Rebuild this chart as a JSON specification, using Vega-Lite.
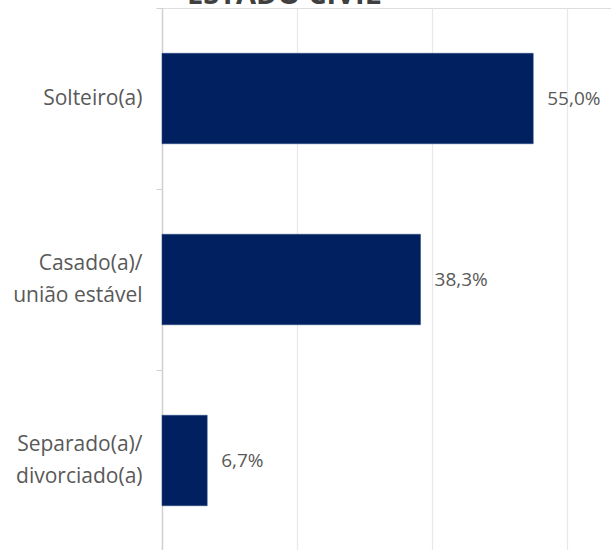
{
  "$schema": "https://vega.github.io/schema/vega-lite/v6.json",
  "autosize": {"type": "none"},
  "padding": {"left": 162, "top": 8, "right": 0, "bottom": 0},
  "width": 540,
  "height": 543,
  "background": "white",
  "title": {
    "text": "ESTADO CIVIL",
    "anchor": "start",
    "frame": "group",
    "dx": 25,
    "offset": 3,
    "dy": 28,
    "baseline": "alphabetic",
    "font": "Open Sans",
    "fontSize": 29,
    "fontWeight": "bold",
    "color": "#404040"
  },
  "data": {
    "values": [
      {"categoria": "Solteiro(a)", "valor": 0.55, "rotulo": "55,0%"},
      {"categoria": "Casado(a)/|união estável", "valor": 0.383, "rotulo": "38,3%"},
      {"categoria": "Separado(a)/|divorciado(a)", "valor": 0.067, "rotulo": "6,7%"}
    ]
  },
  "encoding": {
    "y": {
      "field": "categoria",
      "type": "nominal",
      "sort": ["Solteiro(a)", "Casado(a)/|união estável", "Separado(a)/|divorciado(a)"],
      "scale": {"paddingInner": 0.5, "paddingOuter": 0.25},
      "axis": {
        "title": null,
        "labelExpr": "split(datum.label, '|')",
        "labelFont": "Open Sans",
        "labelFontSize": 21,
        "labelColor": "#595959",
        "labelPadding": 14,
        "labelLineHeight": 32,
        "labelOffset": {"condition": {"test": "indexof(datum.value, '|') >= 0", "value": -16}, "value": 0},
        "bandPosition": -0.5,
        "tickColor": "#d0d0d0",
        "tickSize": 6,
        "domainColor": "#d0d0d0",
        "domainWidth": 1.5,
        "grid": false
      }
    },
    "x": {
      "field": "valor",
      "type": "quantitative",
      "scale": {"domain": [0, 0.8], "nice": false},
      "axis": {
        "title": null,
        "labels": false,
        "ticks": false,
        "domain": false,
        "values": [0.2, 0.4, 0.6],
        "grid": true,
        "gridColor": "#e8e8e8",
        "gridWidth": 1.2
      }
    }
  },
  "layer": [
    {"mark": {"type": "bar", "color": "#002060", "stroke": "#2a4a80", "strokeWidth": 0.5}},
    {
      "mark": {"type": "text", "align": "left", "baseline": "middle", "dx": 14, "font": "Open Sans", "fontSize": 19, "color": "#595959"},
      "encoding": {"text": {"field": "rotulo"}}
    }
  ]
}
